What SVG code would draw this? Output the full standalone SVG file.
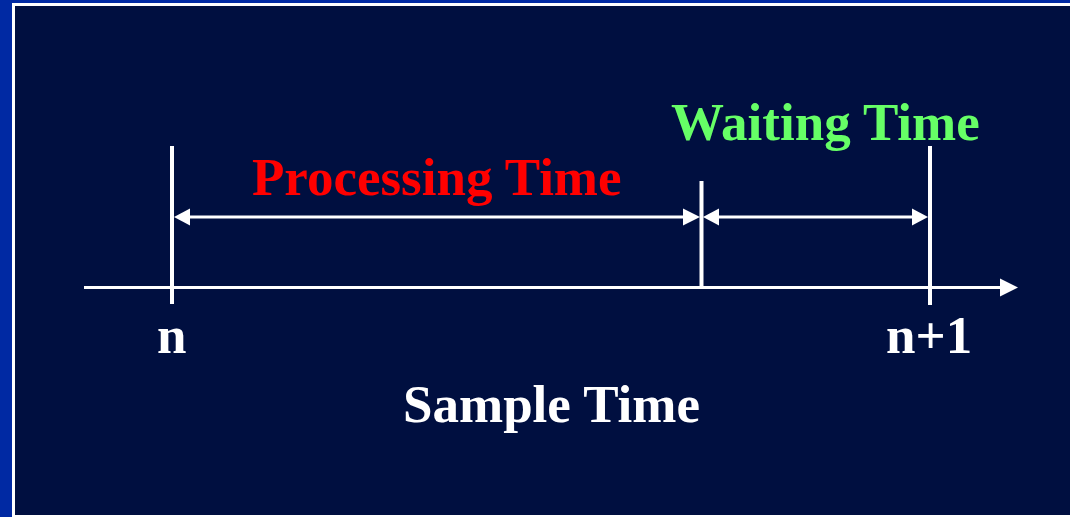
<svg xmlns="http://www.w3.org/2000/svg" width="1070" height="517" viewBox="0 0 1070 517">
  <style>
    .ln { stroke: #ffffff; stroke-width: 3; fill: none; }
    .tk { stroke: #ffffff; stroke-width: 4; fill: none; }
    .hd { fill: #ffffff; }
    .lbl { font-family: "Liberation Serif", "Times New Roman", serif; font-weight: bold; font-size: 53px; }
  </style>
  <!-- frame and slide background -->
  <rect x="0" y="0" width="1070" height="517" fill="#0029a3"/>
  <rect x="12" y="3" width="1058" height="514" fill="#ffffff"/>
  <rect x="15" y="6" width="1055" height="509" fill="#000f40"/>

  <g id="connectors">
    <!-- time axis -->
    <line class="ln" x1="84" y1="287.5" x2="1002" y2="287.5"/>
    <polygon class="hd" points="1018,287.5 1000,278.5 1000,296.5"/>
    <!-- processing span -->
    <line class="ln" x1="188" y1="217" x2="685" y2="217"/>
    <polygon class="hd" points="174,217 190,208.5 190,225.5"/>
    <polygon class="hd" points="700,217 683,208.5 683,225.5"/>
    <!-- waiting span -->
    <line class="ln" x1="717" y1="217" x2="914" y2="217"/>
    <polygon class="hd" points="703,217 719,208.5 719,225.5"/>
    <polygon class="hd" points="928,217 912,208.5 912,225.5"/>
  </g>

  <g id="tick-n">
    <line class="tk" x1="172" y1="146" x2="172" y2="304"/>
    <text class="lbl" x="157" y="353" fill="#ffffff">n</text>
  </g>
  <g id="tick-mid">
    <line class="tk" x1="701.5" y1="181" x2="701.5" y2="286"/>
  </g>
  <g id="tick-n1">
    <line class="tk" x1="930" y1="146" x2="930" y2="305"/>
    <text class="lbl" x="886" y="353" fill="#ffffff">n+1</text>
  </g>
  <g id="processing-time">
    <text class="lbl" x="252" y="195" fill="#ff0000">Processing Time</text>
  </g>
  <g id="waiting-time">
    <text class="lbl" x="671" y="140" fill="#66ff66">Waiting Time</text>
  </g>
  <g id="sample-time">
    <text class="lbl" x="403" y="422" fill="#ffffff">Sample Time</text>
  </g>
</svg>
